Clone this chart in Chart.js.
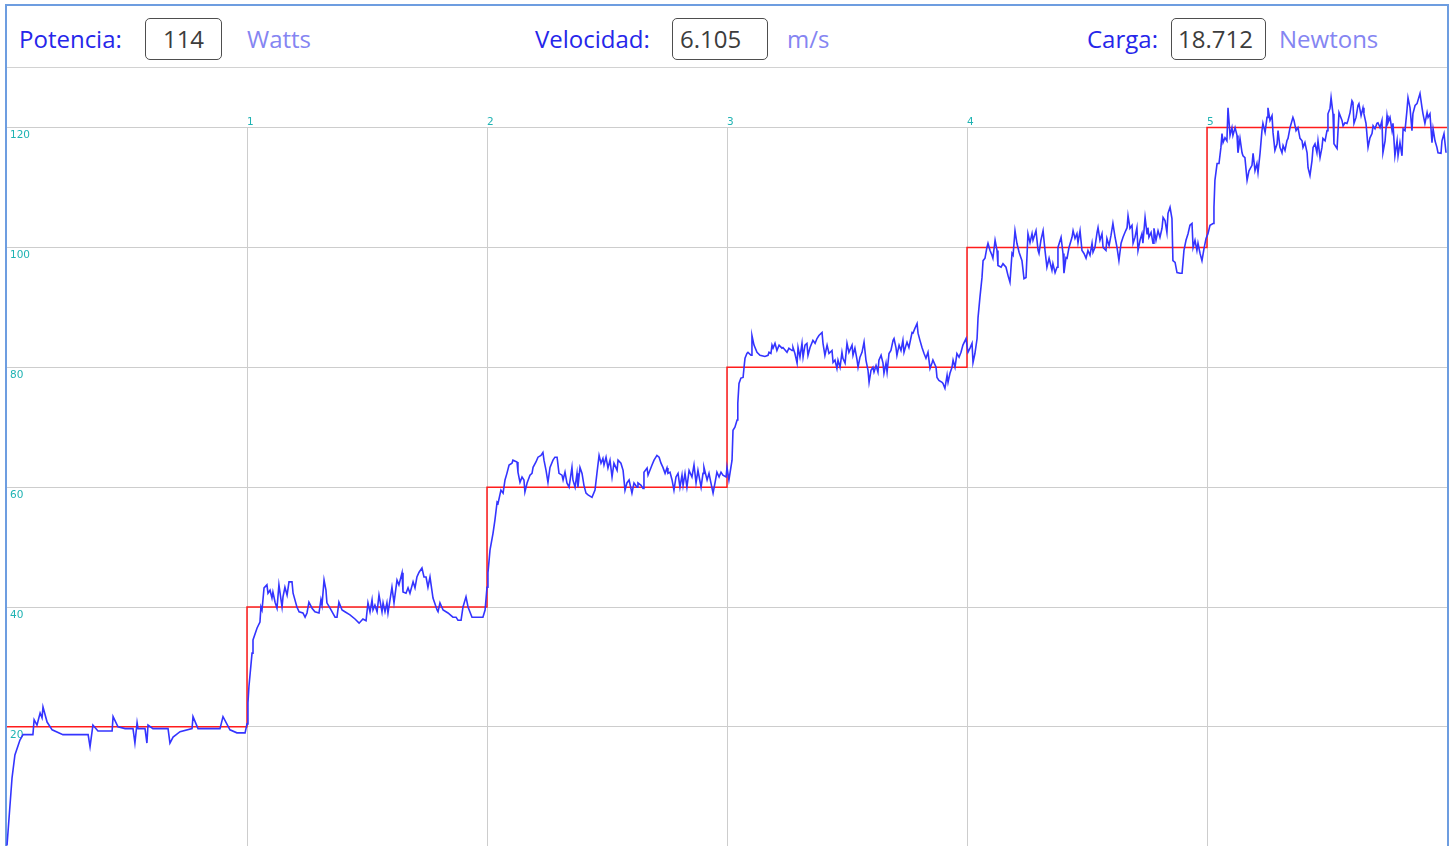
<!DOCTYPE html>
<html>
<head>
<meta charset="utf-8">
<script src="https://cdn.jsdelivr.net/npm/chart.js@4.4.1/dist/chart.umd.min.js"></script>
<style>
  body { margin: 0; background: #fff; overflow: hidden; }
  #marco { position: absolute; left: 5px; top: 4px; width: 1440px; height: 900px;
           border: 2px solid #6d9de0; border-bottom: none; }
  #cabecera { position: absolute; left: 0; top: 0; width: 1440px; height: 61px;
              border-bottom: 1px solid #d2d2d2; font-family: "Open Sans", sans-serif; font-size: 24px; }
  .et, .ud, .caja { position: absolute; top: 12px; height: 42px; line-height: 42px; white-space: nowrap; }
  .et { color: #2626ea; }
  .ud { color: #8585f2; }
  .caja { box-sizing: border-box; border: 1px solid #4e4e4e; border-radius: 5px; color: #3c3c3c; line-height: 40px; }
  #lienzo { position: absolute; left: 0; top: 62px; }
</style>
</head>
<body>
<div id="marco">
  <div id="cabecera">
    <span class="et" style="left:12px">Potencia:</span>
    <span class="caja" style="left:138px;width:77px;text-align:center">114</span>
    <span class="ud" style="left:240px">Watts</span>
    <span class="et" style="left:528px">Velocidad:</span>
    <span class="caja" style="left:665px;width:96px;padding-left:7px">6.105</span>
    <span class="ud" style="left:780px">m/s</span>
    <span class="et" style="left:1080px">Carga:</span>
    <span class="caja" style="left:1164px;width:95px;padding-left:6px">18.712</span>
    <span class="ud" style="left:1272px">Newtons</span>
  </div>
  <canvas id="lienzo" width="1440" height="779"></canvas>
</div>
<script>
// escalones de potencia objetivo (min, W)
const objetivoT = [0, 1, 2, 3, 4, 5, 6];
const objetivoW = [20, 40, 60, 80, 100, 120, 120];

// potencia medida (min, W)
const tiempo = [
  0, 0.021, 0.033, 0.054, 0.067, 0.108, 0.113, 0.125, 0.138, 0.146, 0.15, 0.167, 0.188, 0.233, 0.338, 0.346, 0.358, 0.379, 0.438, 0.442,
  0.4625, 0.492, 0.525, 0.533, 0.542, 0.546, 0.575, 0.583, 0.5875, 0.608, 0.671, 0.679, 0.692, 0.721, 0.771, 0.775, 0.796, 0.8875, 0.9, 0.929,
  0.958, 0.992, 1.0, 1.004, 1.008,
  1.021, 1.025, 1.042, 1.054, 1.058, 1.0625, 1.071, 1.083, 1.0875, 1.096, 1.104, 1.108, 1.117, 1.125, 1.133, 1.146, 1.15, 1.158, 1.167, 1.175,
  1.1875, 1.192, 1.208, 1.217, 1.233, 1.242, 1.25, 1.258, 1.271, 1.283, 1.3, 1.308, 1.3125, 1.321, 1.329, 1.333, 1.346, 1.367, 1.375, 1.383,
  1.396, 1.408, 1.429, 1.45, 1.467, 1.483, 1.496, 1.504, 1.5125, 1.521, 1.525, 1.533, 1.542, 1.55, 1.5625, 1.567, 1.575, 1.583, 1.5875, 1.604,
  1.6125, 1.625, 1.633, 1.646, 1.65, 1.6625, 1.671, 1.679, 1.692, 1.7, 1.708, 1.717, 1.729, 1.7375, 1.746, 1.754, 1.7625, 1.775, 1.792, 1.796,
  1.804, 1.817, 1.8375, 1.858, 1.871, 1.879, 1.892, 1.9, 1.9125, 1.921, 1.9375, 1.95, 1.983, 1.992, 2.0, 2.004,
  2.0125, 2.025, 2.033, 2.042, 2.046, 2.058, 2.067, 2.075, 2.083, 2.092, 2.104, 2.108, 2.125, 2.129, 2.1375, 2.146, 2.154, 2.158, 2.167, 2.179,
  2.1875, 2.192, 2.204, 2.2125, 2.225, 2.233, 2.2375, 2.246, 2.254, 2.2625, 2.275, 2.283, 2.292, 2.3, 2.3125, 2.317, 2.325, 2.333, 2.342, 2.354,
  2.358, 2.367, 2.375, 2.379, 2.3875, 2.396, 2.404, 2.4125, 2.421, 2.4375, 2.45, 2.458, 2.467, 2.475, 2.483, 2.4875, 2.496, 2.504, 2.5125, 2.521,
  2.529, 2.542, 2.546, 2.558, 2.567, 2.575, 2.583, 2.592, 2.604, 2.6125, 2.625, 2.629, 2.642, 2.65, 2.654, 2.667, 2.671, 2.6875, 2.696, 2.708,
  2.717, 2.725, 2.733, 2.742, 2.75, 2.754, 2.7625, 2.771, 2.779, 2.7875, 2.796, 2.804, 2.8125, 2.817, 2.825, 2.833, 2.842, 2.854, 2.8625, 2.871,
  2.879, 2.892, 2.9, 2.904, 2.917, 2.925, 2.933, 2.942, 2.95, 2.958, 2.967, 2.975, 2.983, 2.996, 3.0, 3.008,
  3.021, 3.025, 3.033, 3.042, 3.045, 3.05, 3.058, 3.067, 3.071, 3.075, 3.083, 3.0875, 3.1, 3.104, 3.1125, 3.125, 3.1375, 3.158, 3.171, 3.175,
  3.183, 3.1875, 3.192, 3.2, 3.208, 3.217, 3.229, 3.233, 3.25, 3.258, 3.271, 3.275, 3.283, 3.292, 3.296, 3.304, 3.3125, 3.317, 3.325, 3.333,
  3.3375, 3.346, 3.358, 3.367, 3.375, 3.383, 3.396, 3.4, 3.408, 3.417, 3.425, 3.4375, 3.442, 3.45, 3.458, 3.4625, 3.471, 3.479, 3.483, 3.492,
  3.5, 3.508, 3.521, 3.525, 3.533, 3.542, 3.546, 3.554, 3.5625, 3.571, 3.579, 3.5875, 3.592, 3.6, 3.608, 3.6125, 3.621, 3.629, 3.633, 3.642,
  3.65, 3.654, 3.6625, 3.667, 3.675, 3.683, 3.692, 3.696, 3.704, 3.708, 3.717, 3.725, 3.733, 3.7375, 3.746, 3.75, 3.758, 3.771, 3.775, 3.783,
  3.792, 3.796, 3.804, 3.8125, 3.821, 3.829, 3.8375, 3.846, 3.854, 3.858, 3.871, 3.875, 3.883, 3.896, 3.9, 3.908, 3.917, 3.921, 3.929, 3.9375,
  3.942, 3.95, 3.958, 3.967, 3.975, 3.983, 3.996, 4.004, 4.0125,
  4.021, 4.025, 4.033, 4.042, 4.046, 4.054, 4.0625, 4.067, 4.075, 4.083, 4.0875, 4.096, 4.104, 4.108, 4.117, 4.125, 4.129, 4.142, 4.15, 4.1625,
  4.171, 4.179, 4.1875, 4.192, 4.2, 4.208, 4.217, 4.229, 4.2375, 4.246, 4.254, 4.2625, 4.271, 4.275, 4.2875, 4.296, 4.3, 4.308, 4.317, 4.325,
  4.333, 4.342, 4.354, 4.358, 4.367, 4.375, 4.379, 4.392, 4.4, 4.404, 4.4125, 4.417, 4.425, 4.4375, 4.442, 4.45, 4.458, 4.4625, 4.471, 4.479,
  4.4875, 4.496, 4.504, 4.5125, 4.521, 4.525, 4.533, 4.542, 4.546, 4.554, 4.5625, 4.567, 4.579, 4.583, 4.592, 4.6, 4.608, 4.617, 4.625, 4.633,
  4.642, 4.65, 4.658, 4.667, 4.671, 4.679, 4.6875, 4.692, 4.7, 4.708, 4.7125, 4.721, 4.729, 4.733, 4.742, 4.75, 4.754, 4.758, 4.767, 4.775,
  4.779, 4.7875, 4.796, 4.804, 4.8125, 4.817, 4.825, 4.833, 4.8375, 4.846, 4.854, 4.858, 4.867, 4.875, 4.8875, 4.896, 4.904, 4.9125, 4.921, 4.929,
  4.9375, 4.942, 4.95, 4.958, 4.9625, 4.971, 4.979, 4.9875, 4.996, 5.004, 5.0125,
  5.025, 5.029, 5.033, 5.042, 5.05, 5.058, 5.0625, 5.067, 5.075, 5.083, 5.0875, 5.096, 5.104, 5.108, 5.117, 5.125, 5.129, 5.1375, 5.146, 5.15,
  5.158, 5.167, 5.175, 5.1875, 5.192, 5.2, 5.208, 5.2125, 5.221, 5.229, 5.233, 5.242, 5.25, 5.254, 5.2625, 5.271, 5.275, 5.283, 5.292, 5.296,
  5.304, 5.3125, 5.317, 5.325, 5.333, 5.3375, 5.346, 5.358, 5.3625, 5.371, 5.379, 5.3875, 5.396, 5.4, 5.408, 5.417, 5.421, 5.429, 5.4375, 5.442,
  5.45, 5.458, 5.4625, 5.471, 5.479, 5.483, 5.492, 5.5, 5.504, 5.5125, 5.517, 5.525, 5.529, 5.542, 5.55, 5.5625, 5.567, 5.575, 5.583, 5.5875,
  5.596, 5.604, 5.608, 5.6125, 5.621, 5.629, 5.633, 5.642, 5.65, 5.654, 5.6625, 5.671, 5.679, 5.6875, 5.692, 5.7, 5.708, 5.7125, 5.721, 5.729,
  5.733, 5.742, 5.75, 5.754, 5.7625, 5.771, 5.775, 5.783, 5.792, 5.796, 5.804, 5.8125, 5.817, 5.825, 5.833, 5.8375, 5.846, 5.854, 5.858, 5.867,
  5.875, 5.879, 5.8875, 5.896, 5.9, 5.908, 5.917, 5.921, 5.929, 5.9375, 5.942, 5.95, 5.958, 5.9625, 5.975, 5.979, 5.9875, 5.996
];
const potencia = [
  0.2, 11.5, 15.3, 17.8, 18.7, 18.7, 21.2, 20.3, 22.3, 21.5, 23.3, 20.8, 19.5, 18.7, 18.7, 16.7, 20.3, 19.3, 19.3, 21.7,
  20, 19.7, 19.7, 17.3, 20.7, 19.7, 19.7, 17.3, 20.3, 19.7, 19.7, 17.3, 18.3, 19.2, 19.7, 21.7, 19.7, 19.7, 21.7, 19.5,
  19, 19, 20.5, 24, 26.7,
  32.3, 34.5, 36.5, 37.5, 40, 39.5, 43.2, 43.7, 42.3, 42.8, 41.5, 42.5, 40.8, 39.8, 43.7, 40, 41.7, 43.3, 42, 44.2,
  44.2, 42.3, 40, 39.2, 39, 38.3, 39, 40.8, 39.8, 39.2, 39, 41.2, 40.3, 44.5, 42.8, 40.7, 39.8, 38.3, 38.3, 40.8,
  39.5, 39.2, 38.7, 38, 37.3, 38, 37.7, 40.7, 39.2, 41.2, 39.5, 40.3, 39.2, 42, 39.2, 40.7, 39.2, 40.7, 39, 43.3,
  40.7, 44.5, 43.7, 45.7, 42.5, 42.3, 43.2, 42.3, 44.2, 43.2, 45, 45.8, 46.5, 45, 45, 43.3, 45, 41.5, 39.5, 39.2,
  40.7, 39.5, 39, 38.3, 38.3, 37.8, 37.8, 40, 41.7, 40, 38.3, 38.3, 38.3, 39.5, 43.3, 45.7,
  49.5, 52.3, 54.5, 57.5, 57.3, 59.5, 59, 61.2, 62.3, 63.7, 64, 64.5, 64.2, 62.5, 60.8, 61.7, 61.2, 59.2, 60.7, 62,
  62.3, 63.3, 64.2, 65, 65.3, 65.8, 64.5, 62.8, 60.8, 63.3, 64.5, 65, 65, 62.3, 62, 61.2, 62.5, 60.7, 60, 63.3,
  61.2, 60, 62.3, 60, 63.3, 62.3, 60.3, 59, 58.7, 58.3, 59.5, 62.3, 65.3, 64, 64.8, 63.7, 65, 63.2, 64.5, 61.7,
  64, 62.8, 64.5, 64, 62.8, 59.5, 60.7, 61.2, 59, 60.7, 60, 60.7, 60.3, 59.8, 62.5, 63.2, 62, 63.7, 64.5, 65.3,
  65, 64, 63.3, 62.3, 63.2, 62.3, 62.5, 61.2, 59.5, 61.7, 62.3, 60, 62, 60.3, 62.3, 60, 62.8, 61.7, 63.7, 60.7,
  62.8, 60, 62.3, 63.3, 61.2, 62.3, 60.7, 59, 60.7, 62.5, 61.7, 62.5, 62, 61.7, 63.3, 61.2,
  64.5, 69.5, 70, 71.2, 74, 77.3, 78.2, 78.3, 80, 81.5, 82.3, 82.5, 82, 85.3, 83.7, 82.5, 82, 81.8, 82, 82.5,
  82.3, 83.7, 83.2, 84, 82.8, 83.7, 83.2, 83.3, 82.5, 83.2, 82.8, 83.3, 82.3, 80.7, 83.3, 81.7, 84, 81.7, 83.7, 84,
  82, 83.3, 84.5, 84, 84.8, 85.3, 85.8, 84, 82, 83.7, 82.3, 82.8, 80.8, 81.2, 79.8, 81.2, 80, 82.5, 81.5, 80.7,
  84, 82.5, 83.7, 82, 83.2, 81.2, 80, 81.7, 82.5, 84.2, 81.2, 79.5, 77.5, 79.5, 80, 79.2, 80.3, 79.2, 81.2, 82,
  80.7, 79, 80.7, 79.2, 82.3, 82.8, 84.5, 84.8, 83.3, 82, 83.7, 82.8, 84.5, 82.5, 83.7, 84.2, 83.3, 85.8, 85.7, 86.5,
  87.3, 85.7, 84.5, 83.3, 82.3, 81.5, 82.5, 79.8, 80.7, 81.2, 80, 78.3, 77.8, 77.5, 77.3, 76.5, 78.7, 77.5, 79, 80,
  81.2, 80, 82.3, 81.7, 82.5, 83.7, 84.8, 82.5, 83.2,
  84, 80.8, 82.3, 84.8, 88.3, 91.7, 95, 97.8, 98.2, 100, 100.7, 99.5, 98.7, 98.2, 101.2, 99.5, 97, 96.7, 97.3, 96.7,
  95.3, 94.2, 99, 98.7, 102.8, 100.7, 99.2, 97.8, 94.8, 95, 102.3, 100.8, 102.3, 101.2, 102.8, 99.5, 99, 101.2, 102.8, 99.5,
  96.7, 98.2, 96.2, 97.3, 95.8, 96.7, 100, 101.7, 99, 95.7, 98.3, 98.2, 100, 101.7, 102.8, 101.5, 102.3, 100.8, 102.8, 99.5,
  99, 98.2, 99.5, 98.7, 100.7, 99.2, 100, 102.5, 103.3, 101.2, 102.3, 100, 99.5, 101.5, 100.3, 102, 104, 101.7, 100, 97.8,
  100.7, 101.7, 102.5, 103.3, 105.3, 103.2, 103.7, 100.7, 101.7, 103.3, 99.5, 101.2, 102.3, 100.7, 105, 102.3, 103.3, 101.7, 102.5, 100.7,
  103.2, 101.2, 102.8, 101.7, 103.2, 105, 104.5, 102.5, 105.7, 106.7, 104.8, 97.8, 97.5, 95.8, 95.7, 95.7, 99.5, 101.2, 102.3, 103.7,
  104, 100, 101.2, 99.5, 100.7, 99, 97.8, 99.8, 101.5, 102.3, 103.7,
  104, 106.7, 111.2, 114, 114, 116.7, 119, 117.5, 118.3, 117.8, 123.3, 118.7, 120, 118.7, 120, 118.7, 115.8, 118.2, 115.8, 115.3,
  115, 111.2, 112.8, 113.7, 115.7, 112.8, 114, 112.5, 115.7, 119.5, 120.7, 119.2, 121.7, 123.3, 121.2, 122, 119.2, 116.2, 117.3, 119.5,
  116.7, 115.8, 117, 116.2, 117.8, 118.2, 120, 121.7, 121.2, 119.5, 120, 118.2, 117.8, 116.7, 117.5, 115.8, 113.3, 112, 114.5, 116.7,
  117.3, 115.8, 117.8, 115, 116.7, 118.2, 117.8, 119.5, 122.3, 123.2, 125, 122.3, 117.3, 116.5, 122.5, 121.2, 120.3, 120.8, 120.7, 121.2,
  122.5, 124.5, 124.2, 120.7, 121.7, 123.7, 124, 122, 123.3, 122.3, 120.7, 116.7, 118.3, 119, 120.3, 119.8, 120.7, 120.8, 120, 121.2,
  115.8, 117.8, 122, 120.8, 121.7, 119.5, 120.7, 115.3, 117.8, 115.3, 117.5, 115.3, 119.8, 119.5, 122.8, 125, 123.3, 119.5, 122.3, 123.7,
  124, 124, 125.7, 123.3, 122.3, 120.7, 122.5, 121.7, 122.3, 117.5, 119.8, 117.8, 116.7, 115.8, 115.7, 117.8, 119, 115.8
];

// etiquetas de los ejes
const ticksX = [1, 2, 3, 4, 5];
const ticksY = [20, 40, 60, 80, 100, 120];

const medida = tiempo.map((t, i) => ({ x: t, y: potencia[i] }));
const objetivo = objetivoT.map((t, i) => ({ x: t, y: objetivoW[i] }));

Chart.defaults.font.family = 'DejaVu Sans';
Chart.defaults.font.size = 10.5;

const ctx = document.getElementById('lienzo');

function dibujar() {
  return new Chart(ctx, {
    type: 'line',
    data: {
      datasets: [{
        label: 'Potencia',
        data: medida,
        borderColor: '#3434ff',
        borderWidth: 1.6,
        pointRadius: 0,
        tension: 0,
        clip: false
      },
      {
        label: 'Objetivo',
        data: objetivo,
        borderColor: '#ff1c1c',
        borderWidth: 1.5,
        pointRadius: 0,
        stepped: 'before',
        clip: false
      }]
    },
    options: {
      responsive: false,
      animation: false,
      devicePixelRatio: 1,
      layout: { padding: { top: 47, left: 0, right: 0, bottom: 0 } },
      plugins: { legend: { display: false }, tooltip: { enabled: false } },
      scales: {
        x: {
          type: 'linear',
          position: 'top',
          min: 0,
          max: 6,
          afterBuildTicks: s => { s.ticks = [0, ...ticksX, 6].map(v => ({ value: v })) },
          ticks: {
            align: 'start',
            padding: -1,
            color: '#1fb3b3',
            callback: v => ticksX.includes(v) ? String(v) : null
          },
          grid: { color: '#cdcdcd', lineWidth: 1, drawTicks: false },
          border: { display: false }
        },
        y: {
          min: 0,
          max: 120,
          afterBuildTicks: s => { s.ticks = [0, ...ticksY].map(v => ({ value: v })) },
          ticks: {
            mirror: true,
            padding: 3,
            labelOffset: 8,
            color: '#1fb3b3',
            callback: v => ticksY.includes(v) ? String(v) : null
          },
          grid: { color: '#cdcdcd', lineWidth: 1, drawTicks: false },
          border: { display: false }
        }
      }
    }
  });
}

// primera pasada para medir el area del grafico; luego se ajusta el lienzo
// para que 0..6 min ocupe 1440 px y 0..120 W ocupe 720 px
let chart = dibujar();
let ca = chart.chartArea;
const anchoLienzo = 1440 + ca.left + (chart.width - ca.right);
const altoLienzo = 720 + ca.top + (chart.height - ca.bottom);
chart.destroy();
ctx.width = anchoLienzo;
ctx.height = altoLienzo;
chart = dibujar();
ca = chart.chartArea;
ctx.style.left = (-ca.left) + 'px';
ctx.style.top = (62 + 60 - ca.top) + 'px';
</script>
</body>
</html>
